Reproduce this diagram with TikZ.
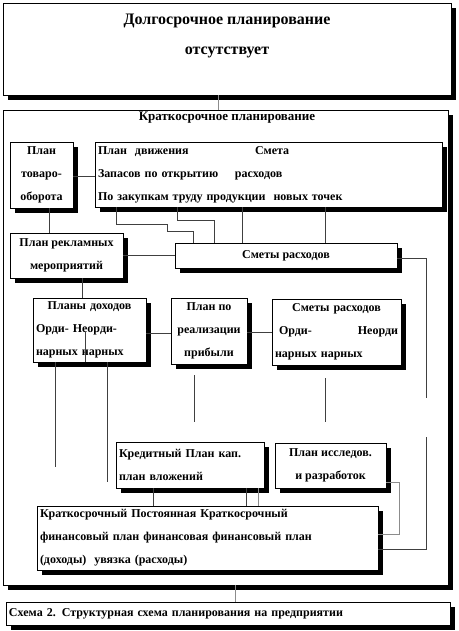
\documentclass[tikz,border=0pt]{standalone}
\usepackage{fontspec}
\setmainfont{Liberation Serif}
\usetikzlibrary{shadows}

\tikzset{
  blk/.style={draw, fill=white, line width=0.8pt, inner xsep=3pt, inner ysep=1pt,
    drop shadow={shadow xshift=5pt, shadow yshift=-5pt, fill=black, opacity=1},
    font=\bfseries\fontsize{12}{23}\selectfont},
  conn/.style={draw=black!75, line width=0.7pt},
  conng/.style={draw=black!45, line width=0.8pt}
}

\begin{document}
\begin{tikzpicture}[x=1pt,y=-1pt]
\useasboundingbox (0,0) rectangle (458,631);

\node[blk, minimum width=448pt, minimum height=92pt, align=center, font=\bfseries\fontsize{16}{30}\selectfont] (top) at (227,49) {Долгосрочное планирование\\отсутствует\\\mbox{}};
\node[blk, minimum width=445pt, minimum height=475pt] (kp) at (225.5,347.5) {};
\node[font=\bfseries\fontsize{13}{15}\selectfont] (kptitle) at (227,118) {Краткосрочное планирование};
\node[blk, minimum width=444pt, minimum height=23pt, text width=438pt, align=left] (cap) at (228,613.5) {Схема 2. Структурная схема планирования на предприятии};

\node[blk, minimum width=63pt, minimum height=66pt, align=center] (tov) at (41.5,175) {План\\товаро-\\оборота};
\node[blk, minimum width=347pt, minimum height=65pt, text width=341pt, align=left] (dvizh) at (268.5,174.5) {\makebox[157pt][l]{План\ \ движения}Смета\\\makebox[137pt][l]{Запасов по открытию}расходов\\По закупкам труду продукции\ \ новых\ точек};
\node[blk, minimum width=113pt, minimum height=45pt, align=center] (rekl) at (66.5,255.5) {План рекламных\\мероприятий};
\node[blk, minimum width=222pt, minimum height=25pt, align=center] (smety) at (286,255.5) {Сметы расходов};
\node[blk, minimum width=113pt, minimum height=64pt, text width=107pt, align=left] (dohod) at (89.5,330) {\makebox[107pt]{Планы доходов}\\Орди-\ Неорди-\\нарных нарных};
\node[blk, minimum width=76pt, minimum height=66pt, align=center] (realiz) at (209,331) {План по\\реализации\\прибыли};
\node[blk, minimum width=129pt, minimum height=66pt, text width=123pt, align=left] (smety2) at (336.5,332) {\makebox[123pt]{Сметы расходов}\\\ Орди-\hfill Неорди\\нарных нарных};
\node[blk, minimum width=148pt, minimum height=46pt, text width=142pt, align=left] (kredit) at (190,465) {Кредитный\ План кап.\\план вложений};
\node[blk, minimum width=111pt, minimum height=45pt, align=center] (issled) at (330.5,465.5) {План исследов.\\и разработок};
\node[blk, minimum width=341pt, minimum height=64pt, text width=335pt, align=left] (fin) at (207.5,538) {Краткосрочный Постоянная Краткосрочный\\финансовый план финансовая финансовый план\\(доходы)\ \ увязка (расходы)};

% free ends
\coordinate (e1) at (55,467);
\coordinate (e2) at (107.5,482);
\coordinate (r1) at (194,375);
\coordinate (r2) at (194,422);
\coordinate (s1) at (325,378);
\coordinate (s2) at (325,422);
\coordinate (g1) at (426,398);
\coordinate (g2) at (426,437);
\coordinate (d1) at (85,332);

\draw[conng] (top.south -| 218,0) -- (kp.north -| 218,0);
\draw[conng] (kp.south -| 235,0) -- (cap.north -| 235,0);
\draw[conn] (tov.east |- 0,176) -- (dvizh.west |- 0,176);
\draw[conn] (tov.south -| 49,0) -- (rekl.north -| 49,0);
\draw[conn] (dvizh.south -| 116,0) |- (167,224) |- (193,231) -- (smety.north -| 193,0);
\draw[conn] (dvizh.south -| 177,0) |- (214,220) -- (smety.north -| 214,0);
\draw[conn] (dvizh.south -| 242,0) -- (smety.north -| 242,0);
\draw[conn] (dvizh.south -| 325,0) -- (smety.north -| 325,0);
\draw[conn] (rekl.east |- 0,255) -- (smety.west |- 0,255);
\draw[conn] (smety.east |- 0,258) -| (g1);
\draw[conn] (g2) |- (fin.east |- 0,549);
\draw[conn] (rekl.south -| 82,0) -- (dohod.north -| 82,0);
\draw[conn] (dohod.east |- 0,333) -- (realiz.west |- 0,333);
\draw[conn] (realiz.east |- 0,332) -- (smety2.west |- 0,332);
\draw[conn] (d1) -- (dohod.south -| d1);
\draw[conn] (dohod.south -| e1) -- (e1);
\draw[conn] (dohod.south -| e2) -- (e2);
\draw[conn] (r1) -- (r2);
\draw[conn] (s1) -- (s2);
\draw[conn] (kredit.south -| 153,0) -- (fin.north -| 153,0);
\draw[conn] (kredit.south -| 246,0) -- (fin.north -| 246,0);
\draw[conng] (kredit.south -| 258,0) -- (fin.north -| 258,0);
\draw[conng] (issled.east |- 0,482) -| (399,534) -- (fin.east |- 0,534);
\end{tikzpicture}
\end{document}
